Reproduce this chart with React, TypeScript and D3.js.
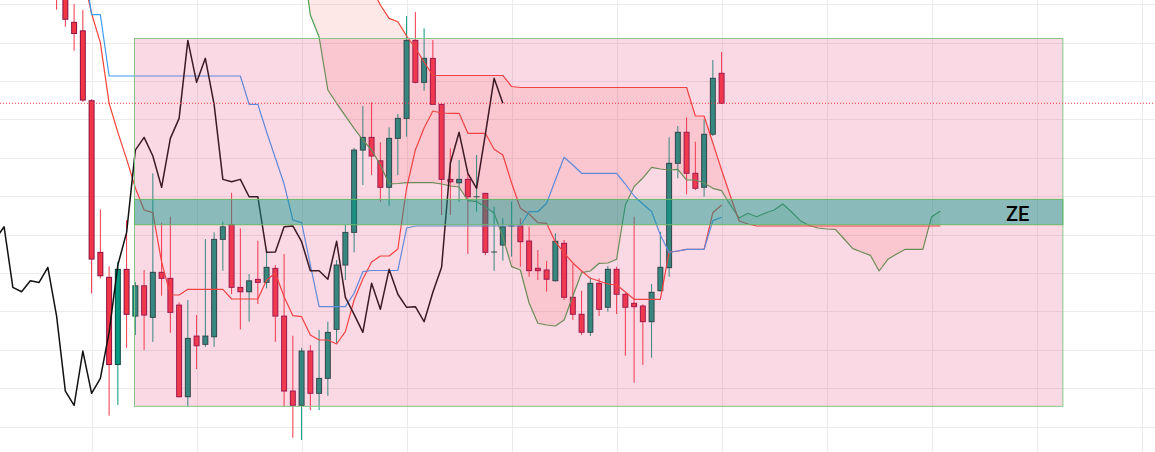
import React from "react";
import * as d3 from "d3";

const W = 1155;
const H = 452;

// ---- candles (bar index 0..76) ----
const opens = [
  206.0, 203.5, 195.3, 193.1, 174.9, 135.4, 128.9, 106.2, 130.97, 118.8,
  126.7, 118.47, 130.2, 128.63, 121.67, 97.8, 113.6, 111.44, 113.42, 138.78,
  142.64, 126.28, 125.14, 128.37, 127.58, 131.23, 118.8, 99.28, 95.55, 109.7,
  98.68, 102.58, 115.34, 132.1, 140.6, 162.04, 165.34, 159.25, 152.33, 165.08,
  170.29, 190.6, 179.67, 185.92, 173.94, 154.41, 153.52, 154.41, 149.88, 150.76,
  135.5, 137.3, 142.27, 142.27, 138.36, 131.25, 130.81, 128.02, 137.76, 123.7,
  119.27, 114.58, 127.34, 121.09, 130.99, 124.48, 122.14, 121.43, 117.35, 125.42,
  131.41, 158.59, 166.67, 155.99, 152.34, 166.15, 182.03,
];
const highs = [
  208.0, 205.5, 200.06, 198.5, 175.3, 146.6, 131.8, 132.95, 143.8, 127.66,
  130.8, 155.97, 143.1, 144.67, 122.38, 122.98, 119.07, 138.86, 140.6, 143.37,
  150.92, 141.65, 129.75, 138.42, 136.0, 132.1, 134.95, 113.68, 110.55, 111.26,
  115.16, 117.33, 133.4, 142.5, 162.6, 173.5, 174.46, 164.04, 167.95, 171.41,
  196.93, 197.98, 193.73, 190.68, 173.94, 162.48, 159.43, 155.79, 160.74, 150.9,
  147.27, 144.27, 148.59, 144.27, 142.1, 136.02, 133.15, 140.36, 138.62, 132.37,
  125.42, 128.91, 128.65, 131.85, 131.67, 124.74, 144.69, 121.88, 127.16, 140.78,
  165.36, 168.31, 170.57, 164.22, 170.05, 185.49, 187.58,
];
const lows = [
  198.6, 194.15, 187.9, 174.6, 124.7, 128.6, 92.85, 95.63, 110.55, 113.86,
  109.95, 112.1, 124.1, 114.46, 97.64, 95.37, 105.0, 110.8, 110.8, 130.6,
  124.54, 115.34, 117.33, 121.93, 126.02, 112.1, 95.19, 87.12, 86.52, 94.33,
  94.33, 98.06, 111.7, 128.2, 135.4, 152.92, 155.53, 148.57, 147.53, 155.53,
  165.5, 179.41, 177.48, 173.94, 145.11, 145.11, 148.57, 134.95, 145.97, 134.7,
  130.6, 133.23, 134.27, 131.67, 129.06, 128.2, 125.16, 127.76, 122.99, 117.79,
  113.88, 113.62, 118.83, 119.95, 119.35, 108.49, 101.46, 106.07, 107.97, 125.16,
  129.06, 154.69, 150.52, 151.64, 149.9, 165.7, 174.04,
];
const closes = [
  202.5, 196.1, 192.4, 175.06, 133.65, 129.3, 106.2, 130.97, 119.25, 126.7,
  119.07, 130.2, 128.63, 119.77, 97.8, 113.0, 111.08, 113.6, 138.78, 142.06,
  126.28, 125.14, 128.0, 127.58, 131.5, 118.8, 99.28, 95.55, 109.7, 98.68,
  102.58, 114.56, 132.1, 140.6, 162.04, 165.34, 160.48, 152.33, 165.08, 170.29,
  190.6, 179.67, 185.92, 173.94, 154.41, 153.78, 154.41, 149.88, 149.88, 135.4,
  135.5, 142.06, 142.27, 138.18, 130.63, 130.63, 128.39, 138.28, 123.7, 119.27,
  114.58, 127.34, 120.57, 130.99, 124.48, 121.09, 121.25, 117.35, 125.0, 131.51,
  158.59, 166.67, 155.99, 152.08, 166.15, 180.73, 174.22,
];

// ---- Ichimoku lines ----
const conversionStart = 3;
const conversionLine = [
  212.84, 197.29, 197.29,
  181.33, 181.33, 181.33, 181.33, 181.33, 181.33, 181.33, 181.33,
  181.33, 181.33, 181.33, 181.33, 181.33, 181.33, 181.33, 181.33,
  173.96, 173.96, 166.74, 159.97, 153.2, 143.83, 143.13, 132.11,
  121.25, 121.25, 121.25, 121.25, 124.74, 130.37,
  130.68, 130.68, 130.68, 130.68, 141.74,
  142.27, 142.27, 142.27, 142.27, 142.27, 142.27, 142.27, 142.27, 142.27, 142.27, 142.27, 142.27, 142.27,
  145.99, 145.99, 148.18, 154.24, 160.16, 158.15,
  155.99, 155.99, 155.99, 155.99, 155.99,
  153.2, 150.08, 148.0, 146.04, 139.92, 135.37, 135.76,
  136.2, 136.2, 136.2, 143.65, 144.53,
];
const baseStart = 3;
const baseLine = [
  207.63, 197.6, 190.0, 174.22, 166.64, 159.69, 152.16, 146.43, 145.73, 132.89,
  124.3, 124.3, 125.78, 125.78, 125.78, 125.78, 125.78,
  123.25, 123.25, 123.25, 123.25, 128.2, 130.03, 123.85, 118.91, 118.65,
  113.88, 112.58, 112.58, 111.54, 114.74, 122.99, 128.46, 132.89, 134.45, 134.45,
  136.28, 152.16, 162.06, 167.79, 172.21, 171.69, 171.62, 171.62,
  166.41, 166.41, 166.41, 162.24, 160.76, 153.46, 146.88, 145.39, 143.13, 142.97,
  138.1, 135.24, 132.63, 130.55, 128.65, 127.94, 127.16, 126.9, 125.08,
  123.17, 123.17, 123.17, 123.17, 135.5, 135.76, 136.2, 136.2, 136.2, 145.73, 147.74,
];
const spanStart = 28;
const leadingSpanA = [
  213.88, 197.21, 191.48, 177.68, 174.22, 170.96, 167.71, 164.66, 162.06, 158.15,
  153.2, 153.33, 153.54, 153.54, 153.54, 153.54, 153.2, 152.68, 152.42, 148.85,
  148.59, 147.29, 145.57, 139.4, 131.67, 130.81, 122.21, 116.93, 116.48, 116.22,
  117.79, 124.04, 130.1, 130.55, 132.55, 132.63, 133.59, 147.74, 152.5, 154.76,
  157.55, 157.11, 156.85, 157.03, 154.24, 154.24, 153.46, 152.08, 151.46, 147.74,
  144.35, 145.57, 144.69, 145.65, 146.43, 148.0, 145.91, 143.65, 142.4, 141.74,
  141.48, 141.41, 138.88, 136.36, 135.5, 134.63, 130.55, 133.59, 134.97, 136.2,
  136.2, 136.2, 144.69, 146.17,
];
const leadingSpanB = [
  227.16, 224.56, 221.95, 219.35, 216.75, 214.14, 211.54, 208.41, 204.25, 199.82,
  196.35, 195.47, 191.75, 188.62, 184.97,
  181.46, 181.46, 181.46, 181.46, 181.46, 181.46, 181.46, 181.46, 181.46,
  178.59,
  178.33, 178.33, 178.33, 178.33, 178.33, 178.33, 178.33, 178.33, 178.33, 178.33,
  178.33, 178.33, 178.33, 178.33, 178.33, 178.33, 178.33, 178.33, 178.33, 178.33,
  170.91, 170.91, 163.88, 156.85, 150.08, 143.57, 142.79,
  142.27, 142.27, 142.27, 142.27, 142.27, 142.27, 142.27, 142.27, 142.27, 142.27, 142.27,
  142.27, 142.27, 142.27, 142.27, 142.27, 142.27, 142.27, 142.27, 142.27, 142.27, 142.27,
];
const laggingDisplacement = 25;

// ---- drawings ----
const zoneLeft = 8.9;
const zoneRight = 115;
const zoneTop = 191.1;
const zoneBottom = 95.3;
const bandTop = 149.2;
const bandBottom = 142.6;
const bandLabel = "ZE";

const gridPrices = [90, 100, 110, 120, 130, 140, 150, 160, 170, 180, 190, 200];
const gridBars = [-8, 4, 16, 28, 40, 52, 64, 76, 88, 100, 112, 124];

const UP = "#089981";
const DOWN = "#F23645";
const UP_BORDER = "#0b4a42";
const DOWN_BORDER = "#8a1348";

type Pt = { i: number; v: number };

export default function App() {
  const x = d3.scaleLinear().domain([0, 76]).range([56.6, 721.6]);
  const y = d3.scaleLinear().domain([201.12, 83.41]).range([0, H]);

  const line = d3
    .line<Pt>()
    .x((d) => x(d.i))
    .y((d) => y(d.v));

  const conv: Pt[] = conversionLine.map((v, k) => ({ i: conversionStart + k, v }));
  const base: Pt[] = baseLine.map((v, k) => ({ i: baseStart + k, v }));
  const spanA: Pt[] = leadingSpanA.map((v, k) => ({ i: spanStart + k, v }));
  const spanB: Pt[] = leadingSpanB.map((v, k) => ({ i: spanStart + k, v }));
  const lagging: Pt[] = closes.map((v, k) => ({ i: k - laggingDisplacement, v }));

  // cloud points including crossings
  type CP = { i: number; a: number; b: number };
  const cloud: CP[] = [];
  for (let k = 0; k < leadingSpanA.length; k++) {
    const a0 = leadingSpanA[k];
    const b0 = leadingSpanB[k];
    cloud.push({ i: spanStart + k, a: a0, b: b0 });
    if (k < leadingSpanA.length - 1) {
      const a1 = leadingSpanA[k + 1];
      const b1 = leadingSpanB[k + 1];
      const d0 = a0 - b0;
      const d1 = a1 - b1;
      if (d0 * d1 < 0) {
        const t = d0 / (d0 - d1);
        const m = a0 + t * (a1 - a0);
        cloud.push({ i: spanStart + k + t, a: m, b: m });
      }
    }
  }
  const greenArea = d3
    .area<CP>()
    .x((d) => x(d.i))
    .y0((d) => y(d.b))
    .y1((d) => y(Math.max(d.a, d.b)));
  const redArea = d3
    .area<CP>()
    .x((d) => x(d.i))
    .y0((d) => y(d.a))
    .y1((d) => y(Math.max(d.a, d.b)));

  const bodyW = 6;
  const lastPrice = closes[closes.length - 1];

  const zx0 = x(zoneLeft);
  const zx1 = x(zoneRight);

  return (
    <svg
      width={W}
      height={H}
      style={{ position: "fixed", left: 0, top: 0, display: "block", background: "#ffffff" }}
    >
      <rect x={0} y={0} width={W} height={H} fill="#ffffff" />
      {/* grid */}
      <g stroke="#ececec" strokeWidth={1}>
        {gridPrices.map((p) => (
          <line key={"h" + p} x1={0} x2={W} y1={Math.round(y(p)) + 0.5} y2={Math.round(y(p)) + 0.5} />
        ))}
        {gridBars.map((b) => (
          <line key={"v" + b} y1={0} y2={H} x1={Math.round(x(b)) + 0.5} x2={Math.round(x(b)) + 0.5} />
        ))}
      </g>

      {/* kumo */}
      <path d={redArea(cloud) || ""} fill="rgba(244,67,54,0.12)" />
      <path d={greenArea(cloud) || ""} fill="rgba(67,160,71,0.12)" />

      {/* candles */}
      <g>
        {closes.map((c, i) => {
          const o = opens[i];
          const up = c >= o;
          const cx = x(i);
          const top = y(Math.max(o, c));
          const bot = y(Math.min(o, c));
          const h = bot - top;
          return (
            <g key={i}>
              <line
                x1={cx}
                x2={cx}
                y1={y(highs[i])}
                y2={y(lows[i])}
                stroke={up ? UP : DOWN}
                strokeWidth={1}
              />
              <rect
                x={cx - bodyW / 2}
                y={top - 0.5}
                width={bodyW}
                height={Math.max(h + 1, 1)}
                fill={up ? UP_BORDER : DOWN_BORDER}
              />
              {h > 1 && (
                <rect
                  x={cx - bodyW / 2 + 1}
                  y={top + 0.5}
                  width={bodyW - 2}
                  height={h - 1}
                  fill={up ? UP : DOWN}
                />
              )}
            </g>
          );
        })}
      </g>

      {/* ichimoku lines */}
      <g fill="none" strokeLinejoin="round">
        <path d={line(spanA) || ""} stroke="#4c9f50" strokeWidth={1.2} />
        <path d={line(spanB) || ""} stroke="#f44336" strokeWidth={1.2} />
        <path d={line(base) || ""} stroke="#f44336" strokeWidth={1.2} />
        <path d={line(conv) || ""} stroke="#3d9df3" strokeWidth={1.2} />
        <path d={line(lagging) || ""} stroke="#111111" strokeWidth={1.5} />
      </g>

      {/* zone rectangle */}
      <rect
        x={zx0}
        y={y(zoneTop)}
        width={zx1 - zx0}
        height={y(zoneBottom) - y(zoneTop)}
        fill="rgba(236,64,122,0.2)"
        stroke="#85c788"
        strokeWidth={1}
      />
      {/* band */}
      <rect
        x={zx0}
        y={y(bandTop)}
        width={zx1 - zx0}
        height={y(bandBottom) - y(bandTop)}
        fill="rgba(0,150,136,0.45)"
        stroke="#66b86a"
        strokeWidth={1}
      />
      <text
        x={zx1 - 33.5}
        y={y((bandTop + bandBottom) / 2) + 8.5}
        textAnchor="end"
        fontFamily="Roboto, 'Noto Sans', sans-serif"
        fontSize={20}
        fontWeight={500}
        fill="#000000"
      >
        {bandLabel}
      </text>

      {/* last price line */}
      <line
        x1={0}
        x2={W}
        y1={y(lastPrice)}
        y2={y(lastPrice)}
        stroke="#F23645"
        strokeWidth={1}
        strokeDasharray="1 2"
      />
    </svg>
  );
}
